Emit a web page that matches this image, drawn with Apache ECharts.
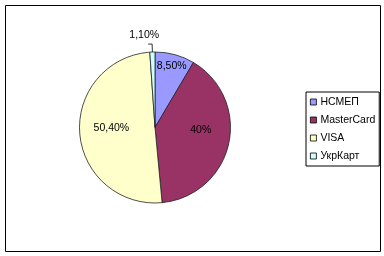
<!DOCTYPE html>
<html>
<head>
<meta charset="utf-8">
<script src="https://cdn.jsdelivr.net/npm/echarts@6/dist/echarts.min.js"></script>
<style>
html,body{margin:0;padding:0;background:#fff;}
#c{width:384px;height:256px;}
</style>
</head>
<body>
<div id="c"></div>
<script>
const categories = ['НСМЕП', 'MasterCard', 'VISA', 'УкрКарт'];
const values = [8.5, 40, 50.4, 1.1];
const colors = ['#9999FF', '#993366', '#FFFFCC', '#CCFFFF'];
const labelShift = [[6, -22], [6, -6], [-3, -3], [16, -9]];

const FONT = '"Liberation Sans", Arial, sans-serif';
const fmt = v => (Number.isInteger(v) ? String(v) : v.toFixed(2).replace('.', ',')) + '%';

const chart = echarts.init(document.getElementById('c'), null, {renderer: 'canvas'});
chart.setOption({
  animation: false,
  backgroundColor: '#fff',
  graphic: [{
    type: 'rect', shape: {x: 5.5, y: 5.5, width: 375, height: 246},
    style: {fill: 'none', stroke: '#000', lineWidth: 1}, silent: true
  }],
  legend: {
    orient: 'vertical', left: 306, top: 92,
    padding: [4, 4, 4, 4], itemGap: 6,
    borderColor: '#000', borderWidth: 1,
    icon: 'rect', itemWidth: 6, itemHeight: 6,
    itemStyle: {borderColor: '#000', borderWidth: 0.8},
    textStyle: {fontFamily: FONT, fontSize: 10.5, color: '#000', lineHeight: 12, padding: [0, 0, 0, -1]},
    data: categories
  },
  series: [{
    type: 'pie',
    center: [155, 127.5],
    radius: 75.5,
    startAngle: 90,
    clockwise: true,
    avoidLabelOverlap: false,
    itemStyle: {borderColor: '#222', borderWidth: 0.8},
    label: {
      position: 'inside', color: '#000', fontFamily: FONT, fontSize: 10.5,
      formatter: p => fmt(p.value)
    },
    labelLine: {show: false},
    labelLayout: p => ({dx: labelShift[p.dataIndex][0], dy: labelShift[p.dataIndex][1]}),
    emphasis: {disabled: true},
    data: categories.map((n, i) => {
      const d = {name: n, value: values[i], itemStyle: {color: colors[i]}};
      if (i === 3) {
        d.label = {position: 'outside'};
        d.labelLine = {show: true, length: 8, length2: 4, lineStyle: {color: '#000', width: 0.8}};
      }
      return d;
    })
  }]
});
</script>
</body>
</html>
